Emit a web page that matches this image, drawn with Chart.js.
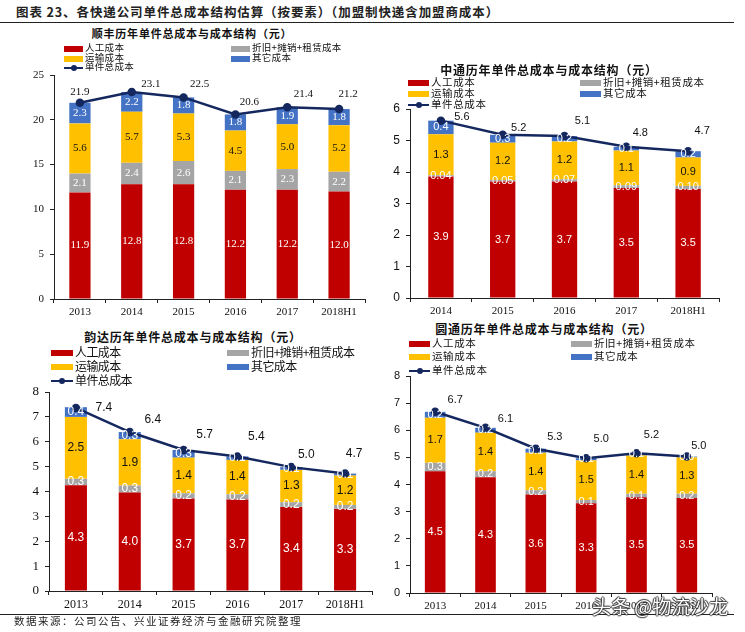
<!DOCTYPE html>
<html>
<head>
<meta charset="utf-8">
<script src="https://cdn.jsdelivr.net/npm/chart.js@4/dist/chart.umd.min.js"></script>
<style>
  html, body { margin: 0; padding: 0; background: #fff; }
  #page { position: relative; width: 745px; height: 632px; overflow: hidden; font-family: "Noto Sans CJK SC", sans-serif; }
  #page canvas { position: absolute; }
  .txt { position: absolute; white-space: nowrap; color: #111; line-height: 1; }
  .rule { position: absolute; left: 0; width: 734px; height: 1px; background: #222; }
  .swatch { position: absolute; height: 6px; }
  .swatch.line { height: 2px; background: #14285f; }
  .swatch.line:after { content: ""; position: absolute; left: 50%; top: -2px; margin-left: -3px; width: 6px; height: 6px; border-radius: 50%; background: #14285f; }
</style>
</head>
<body>
<div id="page"></div>
<script>
// categories
const years = ['2013', '2014', '2015', '2016', '2017', '2018H1'];
const yearsZto = ['2014', '2015', '2016', '2017', '2018H1'];
const seriesNames = ['人工成本', '折旧+摊销+租赁成本', '运输成本', '其它成本', '单件总成本'];

// 顺丰
const sfLabor = [11.9, 12.8, 12.8, 12.2, 12.2, 12.0];
const sfDepreciation = [2.1, 2.4, 2.6, 2.1, 2.3, 2.2];
const sfTransport = [5.6, 5.7, 5.3, 4.5, 5.0, 5.2];
const sfOther = [2.3, 2.2, 1.8, 1.8, 1.9, 1.8];
const sfTotal = [21.9, 23.1, 22.5, 20.6, 21.4, 21.2];

// 中通
const ztoLabor = [3.86, 3.70, 3.70, 3.49, 3.46];
const ztoDepreciation = [0.04, 0.05, 0.07, 0.09, 0.10];
const ztoTransport = [1.30, 1.18, 1.20, 1.10, 0.90];
const ztoOther = [0.43, 0.25, 0.17, 0.12, 0.20];
const ztoTotal = [5.63, 5.18, 5.14, 4.80, 4.66];

// 韵达
const ydLabor = [4.25, 3.96, 3.72, 3.68, 3.38, 3.30];
const ydDepreciation = [0.26, 0.28, 0.21, 0.21, 0.19, 0.16];
const ydTransport = [2.49, 1.86, 1.43, 1.38, 1.30, 1.18];
const ydOther = [0.39, 0.29, 0.31, 0.14, 0.11, 0.08];
const ydTotal = [7.36, 6.39, 5.67, 5.41, 4.98, 4.72];

// 圆通
const ytoLabor = [4.49, 4.27, 3.63, 3.31, 3.53, 3.50];
const ytoDepreciation = [0.31, 0.22, 0.16, 0.12, 0.13, 0.16];
const ytoTransport = [1.66, 1.42, 1.38, 1.46, 1.41, 1.34];
const ytoOther = [0.22, 0.18, 0.15, 0.08, 0.08, 0.03];
const ytoTotal = [6.68, 6.09, 5.32, 4.97, 5.15, 5.03];

const RED = '#c00000', GRAY = '#a5a5a5', YELLOW = '#ffc000', BLUE = '#4472c4', NAVY = '#14285f';
const SERIF = '"Liberation Serif", serif';
const SANS = '"Liberation Sans", sans-serif';

const page = document.getElementById('page');

function addText(text, x, y, size, opts = {}) {
    const el = document.createElement('div');
    el.className = 'txt';
    el.textContent = text;
    el.style.left = x + 'px';
    el.style.top = y + 'px';
    el.style.fontSize = size + 'px';
    if (opts.weight) el.style.fontWeight = opts.weight;
    if (opts.spacing) el.style.letterSpacing = opts.spacing + 'px';
    if (opts.center) el.style.transform = 'translateX(-50%)';
    if (opts.color) el.style.color = opts.color;
    if (opts.shadow) el.style.textShadow = opts.shadow;
    page.appendChild(el);
    return el;
}

function addLegend(lg) {
    const colours = [RED, GRAY, YELLOW, BLUE];
    const cols = [lg.col1, lg.col2, lg.col1, lg.col2, lg.col1];
    const rows = [lg.rows[0], lg.rows[0], lg.rows[1], lg.rows[1], lg.rows[2]];
    seriesNames.forEach((name, i) => {
        const s = document.createElement('div');
        s.className = i === 4 ? 'swatch line' : 'swatch';
        s.style.left = cols[i] + 'px';
        s.style.width = lg.swatch + 'px';
        s.style.top = (rows[i] - (i === 4 ? 1 : 3)) + 'px';
        if (i < 4) s.style.background = colours[i];
        page.appendChild(s);
        addText(name, cols[i] + lg.swatch + 2, rows[i] - lg.size / 2 - 1, lg.size, { spacing: lg.spacing });
    });
}

// draws the value labels on the bars and beside the line
const valueLabels = {
    id: 'valueLabels',
    afterDatasetsDraw(chart, args, o) {
        const ctx = chart.ctx;
        ctx.save();
        ctx.textAlign = 'center';
        ctx.textBaseline = 'middle';
        chart.data.datasets.forEach((ds, d) => {
            const meta = chart.getDatasetMeta(d);
            ds.data.forEach((v, i) => {
                const el = meta.data[i];
                if (ds.type === 'line') {
                    ctx.font = o.size + 'px ' + o.family;
                    ctx.fillStyle = '#111';
                    ctx.fillText(v.toFixed(1), el.x + o.dx[i], el.y + o.dy[i]);
                } else {
                    const digits = ds.digits || 1;
                    ctx.font = o.size + 'px ' + o.family;
                    ctx.fillStyle = ds.backgroundColor === YELLOW ? '#111' : '#fff';
                    ctx.fillText(v.toFixed(digits), el.x, (el.y + el.base) / 2);
                }
            });
        });
        ctx.restore();
    }
};

function addPanel(p) {
    const m = { left: 30, right: 10, top: 14, bottom: 22 };
    const canvas = document.createElement('canvas');
    const w = p.box.right - p.box.left + m.left + m.right;
    const h = p.box.bottom - p.box.top + m.top + m.bottom;
    canvas.width = w;
    canvas.height = h;
    canvas.style.width = w + 'px';
    canvas.style.height = h + 'px';
    canvas.style.left = (p.box.left - m.left) + 'px';
    canvas.style.top = (p.box.top - m.top) + 'px';
    page.appendChild(canvas);

    const bar = (label, data, color, digits) => ({
        type: 'bar', label, data, backgroundColor: color, stack: 's', order: 2,
        barPercentage: 0.41, categoryPercentage: 1, digits
    });

    new Chart(canvas.getContext('2d'), {
        data: {
            labels: p.labels,
            datasets: [
                bar(seriesNames[0], p.labor, RED),
                bar(seriesNames[1], p.depreciation, GRAY, p.depDigits),
                bar(seriesNames[2], p.transport, YELLOW),
                bar(seriesNames[3], p.other, BLUE),
                {
                    type: 'line', label: seriesNames[4], data: p.total, order: 1,
                    borderColor: NAVY, backgroundColor: NAVY, borderWidth: 2.5,
                    pointRadius: 3, pointBackgroundColor: NAVY, pointBorderColor: NAVY,
                    tension: 0, clip: false
                }
            ]
        },
        options: {
            responsive: false,
            animation: false,
            layout: { padding: { top: m.top, right: m.right, left: 0, bottom: 0 } },
            plugins: {
                legend: { display: false },
                title: { display: false },
                tooltip: { enabled: false },
                valueLabels: { size: p.labelSize, family: p.labelFont, dx: p.dx, dy: p.dy }
            },
            scales: {
                x: {
                    stacked: true,
                    afterFit(scale) { scale.height = m.bottom; },
                    grid: { offset: true, drawOnChartArea: false, drawTicks: true, tickLength: 4, color: '#222' },
                    border: { color: '#222' },
                    ticks: { color: '#111', maxRotation: 0, padding: 3, font: { family: SERIF, size: p.xSize } }
                },
                y: {
                    stacked: true,
                    min: 0,
                    max: p.max,
                    afterFit(scale) { scale.width = m.left; },
                    grid: { drawOnChartArea: false, drawTicks: true, tickLength: 4, color: '#222' },
                    border: { color: '#222' },
                    ticks: { stepSize: p.step, color: '#111', padding: 6, font: { family: p.yFont, size: p.ySize } }
                }
            }
        },
        plugins: [valueLabels]
    });

    addText(p.title, p.titleX, p.titleY, p.titleSize, { weight: 700, center: true, spacing: 0.8 });
    addLegend(p.legend);
}

addPanel({
    title: '顺丰历年单件总成本与成本结构（元）', titleX: 192, titleY: 28, titleSize: 11,
    labels: years, labor: sfLabor, depreciation: sfDepreciation, transport: sfTransport, other: sfOther, total: sfTotal,
    box: { left: 54, right: 365, top: 75, bottom: 299 }, max: 25, step: 5,
    xSize: 11, ySize: 11, yFont: SERIF, labelSize: 11, labelFont: SERIF,
    dx: [0, 19, 16, 14, 16, 9], dy: [-11, -8, -13, -12, -13, -15],
    legend: { col1: 64, col2: 231, rows: [49, 59, 68], swatch: 19, size: 9.5, spacing: 0.3 }
});

addPanel({
    title: '中通历年单件总成本与成本结构（元）', titleX: 549, titleY: 64, titleSize: 12,
    labels: yearsZto, labor: ztoLabor, depreciation: ztoDepreciation, transport: ztoTransport, other: ztoOther, total: ztoTotal,
    depDigits: 2,
    box: { left: 410, right: 719, top: 109, bottom: 298 }, max: 6, step: 1,
    xSize: 11, ySize: 12, yFont: SANS, labelSize: 11, labelFont: SANS,
    dx: [21, 16, 18, 14, 14], dy: [-4, -7, -15, -14, -20],
    legend: { col1: 408, col2: 580, rows: [83, 94, 105], swatch: 21, size: 10.5, spacing: 0.6 }
});

addPanel({
    title: '韵达历年单件总成本与成本结构（元）', titleX: 193, titleY: 331, titleSize: 12,
    labels: years, labor: ydLabor, depreciation: ydDepreciation, transport: ydTransport, other: ydOther, total: ydTotal,
    box: { left: 49, right: 372, top: 392, bottom: 591 }, max: 8, step: 1,
    xSize: 12, ySize: 13, yFont: SERIF, labelSize: 12, labelFont: SANS,
    dx: [28, 23, 21, 19, 15, 9], dy: [0, -12, -15, -20, -12, -20],
    legend: { col1: 51, col2: 227, rows: [353, 367, 381], swatch: 22, size: 12, spacing: -0.6 }
});

addPanel({
    title: '圆通历年单件总成本与成本结构（元）', titleX: 544, titleY: 323, titleSize: 12,
    labels: years, labor: ytoLabor, depreciation: ytoDepreciation, transport: ytoTransport, other: ytoOther, total: ytoTotal,
    box: { left: 410, right: 712, top: 376, bottom: 593 }, max: 8, step: 1,
    xSize: 11, ySize: 11, yFont: SANS, labelSize: 11, labelFont: SANS,
    dx: [20, 20, 19, 15, 15, 12], dy: [-12, -9, -12, -19, -18, -11],
    legend: { col1: 409, col2: 571, rows: [344, 357, 371], swatch: 21, size: 10.5, spacing: 0.6 }
});

// page heading, rules, source line
addText('图表 23、各快递公司单件总成本结构估算（按要素）（加盟制快递含加盟商成本）', 16, 6, 12.5, { weight: 700, spacing: 0.9, color: '#222' });
[22, 614].forEach(y => {
    const r = document.createElement('div');
    r.className = 'rule';
    r.style.top = y + 'px';
    page.appendChild(r);
});
addText('数据来源：公司公告、兴业证券经济与金融研究院整理', 14, 616, 10.5, { spacing: 1.5, color: '#222' });
addText('头条 @物流沙龙', 592, 596, 19, {
    color: '#fff',
    shadow: '1px 0 1px #333, -1px 0 1px #333, 0 1px 1px #333, 0 -1px 1px #333'
});
</script>
</body>
</html>
